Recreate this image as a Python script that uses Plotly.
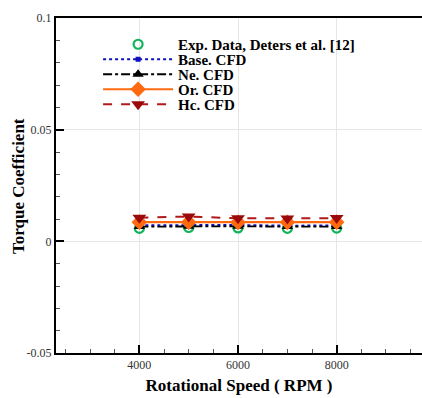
import plotly.graph_objects as go

rpm = [4000, 5000, 6000, 7000, 8000]
exp_data = [0.0058, 0.0062, 0.0060, 0.0058, 0.0059]
base_cfd = [0.0072, 0.0074, 0.0073, 0.0070, 0.0071]
ne_cfd = [0.0066, 0.0068, 0.0067, 0.0066, 0.0066]
or_cfd = [0.0086, 0.0086, 0.0085, 0.0085, 0.0086]
hc_cfd = [0.0106, 0.0111, 0.0103, 0.0102, 0.0104]

y_ticks = [0.1, 0.05, 0, -0.05]
y_ticklabels = ["0.1", "0.05", "0", "-0.05"]
x_ticks = [4000, 6000, 8000]
x_ticklabels = ["4000", "6000", "8000"]

FONT = "Liberation Serif"

fig = go.Figure()
fig.add_trace(go.Scatter(x=rpm, y=exp_data, mode="markers", name="Exp. Data, Deters et al. [12]", legend="legend",
                         marker=dict(symbol="circle-open", size=9, color="#12b35a", line=dict(width=2.2))))
fig.add_trace(go.Scatter(x=rpm, y=base_cfd, mode="lines+markers", name="Base. CFD", legend="legend2",
                         line=dict(color="#1010c0", width=2, dash="dot"),
                         marker=dict(symbol="square", size=5, color="#1010c0")))
fig.add_trace(go.Scatter(x=rpm, y=ne_cfd, mode="lines+markers", name="Ne. CFD", legend="legend3",
                         line=dict(color="black", width=1.8, dash="dashdot"),
                         marker=dict(symbol="triangle-up", size=10, color="black")))
fig.add_trace(go.Scatter(x=rpm, y=or_cfd, mode="lines+markers", name="Or. CFD", legend="legend4",
                         line=dict(color="#ff6a10", width=2.2),
                         marker=dict(symbol="diamond", size=12, color="#ff6a10")))
fig.add_trace(go.Scatter(x=rpm, y=hc_cfd, mode="lines+markers", name="Hc. CFD", legend="legend5",
                         line=dict(color="#b01a1a", width=2, dash="dash"),
                         marker=dict(symbol="triangle-down", size=12, color="#9a0a0a")))

plot_left, plot_top, plot_bottom = 56, 18, 353
plot_width = 422 - plot_left


def legend_at(center_px):
    return dict(x=0.115, y=(plot_bottom - center_px) / (plot_bottom - plot_top),
                xanchor="left", yanchor="middle",
                bgcolor="rgba(0,0,0,0)", itemwidth=70,
                font=dict(family=FONT, size=15, color="black", weight="bold"))


fig.update_layout(
    width=422, height=398,
    margin=dict(l=plot_left, r=0, t=plot_top, b=398 - plot_bottom, autoexpand=False),
    paper_bgcolor="white", plot_bgcolor="white",
    font=dict(family=FONT, color="black"),
    showlegend=True,
    legend=legend_at(44.5),
    legend2=legend_at(59.5),
    legend3=legend_at(74.5),
    legend4=legend_at(89.5),
    legend5=legend_at(104.5),
    annotations=[dict(text="<b>Torque Coefficient</b>", textangle=-90,
                      xref="paper", yref="paper",
                      x=(18 - plot_left) / plot_width, y=(plot_bottom - 186) / (plot_bottom - plot_top),
                      xanchor="center", yanchor="middle", showarrow=False,
                      font=dict(family=FONT, size=17, color="black"))],
)
fig.update_xaxes(
    range=[2310, 9730],
    tickvals=x_ticks, ticktext=x_ticklabels,
    ticks="inside", ticklen=8, tickwidth=2, tickcolor="black",
    minor=dict(dtick=500, tick0=0, ticks="inside", ticklen=4, tickwidth=1, tickcolor="#555", showgrid=False),
    showline=True, linecolor="black", linewidth=2, mirror=True,
    showgrid=True, gridcolor="#e6e6e6", gridwidth=1,
    zeroline=False,
    tickfont=dict(family=FONT, size=12, color="#333"),
    title=dict(text="Rotational Speed ( RPM )", font=dict(family=FONT, size=17, color="black", weight="bold"), standoff=8),
)
fig.update_yaxes(
    range=[-0.05, 0.1],
    tickvals=y_ticks, ticktext=y_ticklabels,
    ticks="inside", ticklen=8, tickwidth=2, tickcolor="black",
    minor=dict(dtick=0.01, tick0=0, ticks="inside", ticklen=4, tickwidth=1, tickcolor="#555", showgrid=False),
    showline=True, linecolor="black", linewidth=2, mirror=False,
    showgrid=True, gridcolor="#e6e6e6", gridwidth=1,
    zeroline=False,
    tickfont=dict(family=FONT, size=12, color="#333"),
)

fig.write_html("out.html", config={"displayModeBar": False},
               post_script="document.body.style.margin='0px';")
